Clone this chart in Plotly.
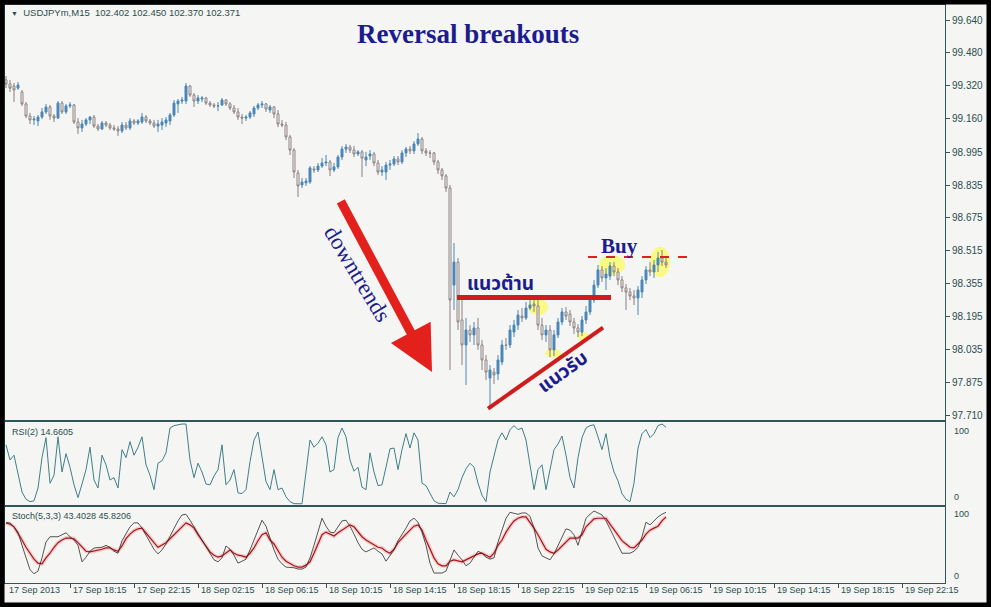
import plotly.graph_objects as go
from plotly.subplots import make_subplots

# ---------------- data ----------------
opens = [99.348, 99.328, 99.318, 99.308, 99.289, 99.231, 99.172, 99.153, 99.148, 99.167,
         99.192, 99.216, 99.172, 99.162, 99.235, 99.192, 99.221, 99.226, 99.143, 99.114,
         99.133, 99.153, 99.167, 99.123, 99.109, 99.138, 99.128, 99.114, 99.109, 99.099,
         99.128, 99.114, 99.148, 99.138, 99.143, 99.167, 99.148, 99.138, 99.123, 99.128,
         99.138, 99.148, 99.177, 99.231, 99.245, 99.245, 99.318, 99.274, 99.245, 99.255,
         99.260, 99.235, 99.226, 99.221, 99.226, 99.250, 99.231, 99.211, 99.192, 99.167,
         99.162, 99.167, 99.182, 99.211, 99.226, 99.231, 99.201, 99.216, 99.182, 99.133,
         99.128, 99.070, 99.006, 98.894, 98.836, 98.846, 98.850, 98.914, 98.909, 98.928,
         98.943, 98.948, 98.909, 98.924, 98.972, 99.011, 99.021, 99.006, 98.987, 98.997,
         98.958, 98.977, 98.987, 98.943, 98.899, 98.899, 98.933, 98.938, 98.963, 98.948,
         98.992, 99.011, 99.002, 99.036, 99.060, 99.002, 98.992, 98.992, 98.948, 98.909,
         98.880, 98.821, 98.348, 98.460, 98.178, 98.056, 98.129, 98.105, 98.139, 98.056,
         97.983, 97.895, 97.924, 97.915, 97.973, 98.056, 98.056, 98.119, 98.153, 98.197,
         98.188, 98.236, 98.256, 98.246, 98.153, 98.105, 98.129, 98.032, 98.105, 98.168,
         98.217, 98.207, 98.168, 98.139, 98.119, 98.178, 98.217, 98.275, 98.348, 98.422,
         98.383, 98.392, 98.441, 98.412, 98.373, 98.334, 98.314, 98.295, 98.285, 98.314,
         98.373, 98.422, 98.412, 98.446, 98.480, 98.460]
highs = [99.367, 99.348, 99.333, 99.338, 99.299, 99.240, 99.187, 99.172, 99.177, 99.211,
         99.231, 99.226, 99.182, 99.245, 99.245, 99.231, 99.240, 99.231, 99.162, 99.153,
         99.162, 99.172, 99.177, 99.133, 99.148, 99.148, 99.138, 99.128, 99.123, 99.143,
         99.143, 99.162, 99.157, 99.157, 99.187, 99.177, 99.157, 99.153, 99.153, 99.162,
         99.167, 99.187, 99.250, 99.255, 99.265, 99.333, 99.323, 99.284, 99.274, 99.270,
         99.265, 99.245, 99.235, 99.240, 99.260, 99.255, 99.240, 99.226, 99.211, 99.182,
         99.177, 99.196, 99.221, 99.235, 99.245, 99.235, 99.226, 99.221, 99.201, 99.153,
         99.143, 99.080, 99.016, 98.909, 98.870, 98.870, 98.928, 98.928, 98.943, 98.967,
         98.982, 98.958, 98.943, 98.982, 99.026, 99.036, 99.031, 99.026, 99.006, 99.006,
         98.997, 99.006, 98.997, 98.958, 98.928, 98.948, 98.958, 98.977, 98.977, 99.006,
         99.021, 99.026, 99.050, 99.089, 99.070, 99.016, 99.006, 98.997, 98.958, 98.919,
         98.889, 98.836, 98.553, 98.480, 98.275, 98.188, 98.153, 98.168, 98.188, 98.080,
         98.007, 97.958, 97.944, 98.007, 98.080, 98.090, 98.153, 98.178, 98.227, 98.236,
         98.266, 98.275, 98.290, 98.275, 98.188, 98.153, 98.153, 98.129, 98.188, 98.236,
         98.241, 98.227, 98.188, 98.158, 98.197, 98.246, 98.295, 98.373, 98.446, 98.441,
         98.431, 98.460, 98.460, 98.431, 98.392, 98.353, 98.334, 98.324, 98.344, 98.392,
         98.441, 98.460, 98.470, 98.509, 98.519, 98.480]
lows = [99.308, 99.289, 99.240, 99.299, 99.221, 99.162, 99.133, 99.128, 99.123, 99.157,
        99.182, 99.153, 99.143, 99.157, 99.182, 99.182, 99.211, 99.133, 99.084, 99.094,
        99.123, 99.133, 99.114, 99.099, 99.104, 99.118, 99.104, 99.099, 99.075, 99.089,
        99.104, 99.104, 99.128, 99.128, 99.133, 99.138, 99.128, 99.114, 99.094, 99.104,
        99.118, 99.128, 99.167, 99.187, 99.231, 99.231, 99.265, 99.216, 99.231, 99.240,
        99.226, 99.216, 99.211, 99.196, 99.221, 99.221, 99.201, 99.182, 99.153, 99.133,
        99.148, 99.157, 99.167, 99.201, 99.211, 99.192, 99.187, 99.162, 99.118, 99.118,
        99.055, 98.982, 98.870, 98.777, 98.821, 98.831, 98.841, 98.894, 98.899, 98.919,
        98.928, 98.880, 98.899, 98.914, 98.958, 98.992, 98.992, 98.972, 98.977, 98.875,
        98.928, 98.958, 98.928, 98.885, 98.880, 98.860, 98.909, 98.928, 98.933, 98.938,
        98.972, 98.987, 98.987, 99.026, 98.987, 98.977, 98.967, 98.933, 98.889, 98.860,
        98.802, 97.934, 98.227, 98.129, 97.958, 97.861, 98.071, 98.056, 98.032, 97.934,
        97.885, 97.754, 97.866, 97.885, 97.958, 98.032, 98.041, 98.095, 98.129, 98.168,
        98.178, 98.227, 98.217, 98.129, 98.080, 98.071, 97.997, 98.002, 98.090, 98.153,
        98.178, 98.148, 98.110, 98.095, 98.100, 98.158, 98.202, 98.261, 98.334, 98.363,
        98.324, 98.373, 98.392, 98.348, 98.314, 98.227, 98.275, 98.251, 98.202, 98.285,
        98.353, 98.392, 98.383, 98.412, 98.441, 98.431]
closes = [99.328, 99.308, 99.299, 99.323, 99.231, 99.172, 99.153, 99.157, 99.167, 99.192,
          99.216, 99.172, 99.162, 99.235, 99.192, 99.221, 99.226, 99.143, 99.114, 99.133,
          99.153, 99.167, 99.123, 99.109, 99.138, 99.128, 99.114, 99.109, 99.099, 99.128,
          99.114, 99.148, 99.138, 99.148, 99.167, 99.148, 99.138, 99.123, 99.133, 99.143,
          99.153, 99.177, 99.235, 99.245, 99.250, 99.318, 99.274, 99.245, 99.260, 99.260,
          99.235, 99.226, 99.221, 99.222, 99.250, 99.231, 99.211, 99.192, 99.167, 99.162,
          99.167, 99.187, 99.211, 99.226, 99.231, 99.206, 99.216, 99.182, 99.133, 99.128,
          99.070, 99.006, 98.899, 98.831, 98.850, 98.855, 98.919, 98.909, 98.928, 98.943,
          98.948, 98.909, 98.924, 98.972, 99.011, 99.021, 99.006, 98.987, 98.997, 98.967,
          98.972, 98.987, 98.943, 98.899, 98.909, 98.933, 98.938, 98.963, 98.948, 98.992,
          99.011, 99.002, 99.036, 99.060, 99.002, 98.992, 98.991, 98.948, 98.909, 98.880,
          98.821, 98.275, 98.460, 98.168, 98.056, 98.129, 98.105, 98.139, 98.056, 97.983,
          97.924, 97.934, 97.910, 97.983, 98.056, 98.054, 98.129, 98.153, 98.202, 98.188,
          98.236, 98.251, 98.246, 98.153, 98.105, 98.129, 98.032, 98.105, 98.168, 98.217,
          98.197, 98.168, 98.139, 98.119, 98.178, 98.217, 98.275, 98.348, 98.422, 98.383,
          98.402, 98.441, 98.412, 98.373, 98.334, 98.314, 98.295, 98.285, 98.324, 98.373,
          98.422, 98.412, 98.446, 98.480, 98.460, 98.446]

rsi = [74, 55, 61, 36, 15, 6, 3, 4, 20, 58, 83, 26, 36, 84, 40, 63, 46, 24, 8, 25,
       43, 71, 30, 20, 61, 49, 30, 33, 20, 68, 58, 78, 61, 71, 84, 49, 36, 18, 51, 54,
       64, 95, 98, 99, 100, 100, 55, 33, 51, 40, 25, 24, 35, 43, 74, 24, 30, 43, 14, 13,
       18, 53, 80, 90, 61, 28, 18, 43, 18, 20, 9, 3, 0.5, 0.3, 0.3, 40, 80, 71, 76, 84,
       74, 40, 43, 83, 95, 84, 55, 41, 46, 21, 18, 64, 40, 23, 24, 46, 69, 70, 43, 68,
       88, 70, 89, 80, 26, 23, 14, 4, 1, 0.3, 0.5, 15, 9, 18, 33, 44, 51, 46, 26, 11,
       3, 40, 61, 80, 89, 80, 93, 98, 93, 95, 80, 49, 18, 43, 49, 18, 43, 68, 75, 85,
       61, 33, 20, 58, 83, 95, 98, 99, 84, 68, 88, 58, 40, 29, 13, 6, 3, 26, 70, 88,
       93, 83, 88, 98, 100, 96]

stoch_k = [82, 82, 76, 68, 48, 29, 11, 5, 9, 29, 53, 61, 61, 61, 64, 67, 61, 56, 48, 23,
           30, 39, 44, 44, 45, 48, 45, 39, 36, 55, 65, 76, 82, 82, 74, 64, 52, 42, 35, 41,
           50, 62, 74, 85, 94, 95, 86, 76, 65, 56, 47, 35, 26, 23, 29, 47, 42, 33, 21, 24,
           27, 41, 56, 71, 86, 77, 59, 41, 27, 20, 15, 15, 14, 12, 12, 15, 29, 48, 70, 89,
           77, 68, 67, 77, 85, 86, 77, 65, 52, 42, 38, 41, 44, 39, 35, 24, 32, 41, 55, 64,
           74, 85, 89, 83, 68, 48, 21, 6, 6, 6, 9, 26, 41, 33, 26, 17, 21, 30, 39, 36,
           30, 27, 29, 53, 71, 89, 98, 97, 95, 97, 97, 92, 74, 44, 32, 29, 26, 35, 48, 62,
           73, 71, 64, 48, 68, 89, 95, 100, 97, 94, 85, 73, 61, 47, 36, 36, 36, 39, 45, 61,
           83, 79, 85, 91, 95, 98]
stoch_d = [82, 80, 76, 67, 56, 45, 36, 27, 21, 20, 29, 36, 45, 52, 56, 59, 59, 58, 52, 45,
           39, 38, 39, 41, 42, 44, 44, 41, 39, 47, 58, 65, 70, 73, 74, 67, 59, 52, 45, 48,
           52, 58, 64, 71, 77, 82, 79, 74, 64, 55, 45, 38, 33, 30, 32, 36, 41, 36, 33, 32,
           30, 36, 44, 55, 64, 67, 56, 50, 39, 30, 24, 20, 17, 15, 15, 18, 23, 36, 50, 64,
           68, 65, 62, 67, 71, 76, 79, 76, 68, 61, 56, 52, 48, 45, 44, 39, 36, 42, 52, 59,
           65, 71, 77, 79, 71, 56, 41, 29, 20, 17, 17, 24, 26, 24, 23, 26, 29, 32, 35, 36,
           33, 30, 36, 48, 56, 68, 77, 85, 89, 91, 91, 83, 74, 64, 53, 42, 38, 36, 41, 47,
           53, 59, 59, 59, 64, 76, 82, 88, 89, 89, 89, 80, 71, 62, 55, 50, 45, 44, 50, 56,
           65, 71, 74, 77, 85, 91]

price_ticks = [97.710, 97.875, 98.035, 98.195, 98.355, 98.515, 98.675,
               98.835, 98.995, 99.160, 99.320, 99.480, 99.640]
time_label_pos = [0, 16, 32, 48, 64, 80, 96, 112, 128, 144, 160, 176, 192, 208, 224]
time_labels = ["17 Sep 2013", "17 Sep 18:15", "17 Sep 22:15", "18 Sep 02:15", "18 Sep 06:15",
               "18 Sep 10:15", "18 Sep 14:15", "18 Sep 18:15", "18 Sep 22:15", "19 Sep 02:15",
               "19 Sep 06:15", "19 Sep 10:15", "19 Sep 14:15", "19 Sep 18:15", "19 Sep 22:15"]

resistance_level = 98.288
buy_level = 98.485
support_from = (120.5, 97.746)
support_to = (149.25, 98.141)

# ---------------- figure ----------------
BG = "#f5f5f3"
FRAME = "#2c5858"
TXT = "#2a4e4e"
NAVY = "#1c1c8e"

fig = make_subplots(rows=3, cols=1, shared_xaxes=True, vertical_spacing=0)

fig.add_trace(go.Candlestick(
    x=list(range(len(closes))), open=opens, high=highs, low=lows, close=closes,
    increasing=dict(line=dict(color="#4a86b8", width=1), fillcolor="#4a86b8"),
    decreasing=dict(line=dict(color="#8a8080", width=1), fillcolor="#ffffff"),
    whiskerwidth=0, showlegend=False, hoverinfo="skip"), row=1, col=1)

fig.add_trace(go.Scatter(x=list(range(len(rsi))), y=rsi, mode="lines",
                         line=dict(color="#3f7f88", width=1), showlegend=False,
                         hoverinfo="skip"), row=2, col=1)

fig.add_trace(go.Scatter(x=list(range(len(stoch_d))), y=stoch_d, mode="lines",
                         line=dict(color="rgba(235,120,120,0.30)", width=4),
                         showlegend=False, hoverinfo="skip"), row=3, col=1)
fig.add_trace(go.Scatter(x=list(range(len(stoch_d))), y=stoch_d, mode="lines",
                         line=dict(color="#a8141a", width=1.2), showlegend=False,
                         hoverinfo="skip"), row=3, col=1)
fig.add_trace(go.Scatter(x=list(range(len(stoch_k))), y=stoch_k, mode="lines",
                         line=dict(color="#2b2b2b", width=0.8), showlegend=False,
                         hoverinfo="skip"), row=3, col=1)

axis_common = dict(showgrid=False, zeroline=False, showline=True, mirror=True,
                   linecolor=FRAME, linewidth=1)
for ax in ["xaxis", "xaxis2", "xaxis3"]:
    fig.layout[ax].update(range=[-0.25, 234.75], rangeslider=dict(visible=False),
                          showticklabels=False, ticks="", **axis_common)
fig.layout.xaxis3.update(ticks="outside", ticklen=4, tickcolor=FRAME,
                         tickvals=time_label_pos[1:])

fig.layout.yaxis.update(domain=[0.2820, 1.0], range=[97.6904, 99.7131], side="right",
                        tickvals=price_ticks, ticktext=["%.3f" % v for v in price_ticks],
                        ticks="outside", ticklen=4, tickcolor=FRAME,
                        tickfont=dict(family="Liberation Sans", size=10, color=TXT),
                        **axis_common)
fig.layout.yaxis2.update(domain=[0.1349, 0.2785], range=[-1.25, 102.5],
                         showticklabels=False, ticks="", **axis_common)
fig.layout.yaxis3.update(domain=[0.0, 0.1315], range=[-9.09, 106.06],
                         showticklabels=False, ticks="", **axis_common)

ann = []
small = dict(family="Liberation Sans", size=9, color=TXT)
ann.append(dict(xref="paper", yref="paper", x=0.0043, y=0.9862, xanchor="left",
                yanchor="middle", showarrow=False, font=dict(family="Liberation Sans", size=9.5, color=TXT),
                text="<span style='font-size:7px'>▼</span>\u00a0\u00a0USDJPYm,M15\u00a0\u00a0102.402 102.450 102.370 102.371"))
ann.append(dict(xref="paper", yref="paper", x=0.0053, y=0.2612, xanchor="left",
                yanchor="middle", showarrow=False, font=small, text="RSI(2) 14.6605"))
ann.append(dict(xref="paper", yref="paper", x=0.0053, y=0.1159, xanchor="left",
                yanchor="middle", showarrow=False, font=small,
                text="Stoch(5,3,3) 43.4028 45.8206"))
# indicator scale labels
ann.append(dict(xref="paper", yref="y2", x=1.007, y=100, xanchor="left", yanchor="top",
                showarrow=False, font=small, text="100"))
ann.append(dict(xref="paper", yref="y2", x=1.007, y=0, xanchor="left", yanchor="bottom",
                showarrow=False, font=small, text="0"))
ann.append(dict(xref="paper", yref="y3", x=1.007, y=100, yshift=-3, xanchor="left",
                yanchor="middle", showarrow=False, font=small, text="100"))
ann.append(dict(xref="paper", yref="y3", x=1.007, y=0, yshift=1, xanchor="left",
                yanchor="middle", showarrow=False, font=small, text="0"))
# time labels
for pos, lab in zip(time_label_pos, time_labels):
    ann.append(dict(xref="x3", yref="paper", x=pos + 0.25, y=-0.0121, xanchor="left",
                    yanchor="middle", showarrow=False, font=small, text=lab))
# title
ann.append(dict(xref="paper", yref="paper", x=0.4926, y=0.9498, xanchor="center",
                yanchor="middle", showarrow=False,
                font=dict(family="Liberation Serif", size=27, color=NAVY),
                text="<b>Reversal breakouts</b>"))
# down arrow
ann.append(dict(xref="x", yref="y", axref="x", ayref="y", x=106.5, y=97.924,
                ax=83.5, ay=98.763, showarrow=True, arrowhead=2, arrowsize=1.0,
                arrowwidth=9, arrowcolor="#e3211c", standoff=0, text=""))
ann.append(dict(xref="x", yref="y", x=87.8, y=98.405, showarrow=False, textangle=59,
                font=dict(family="Liberation Serif", size=23, color=NAVY),
                text="downtrends"))
thai_font = "Noto Sans Thai, Noto Sans Thai UI, Loma, Garuda, Tahoma, sans-serif"
ann.append(dict(xref="x", yref="y", x=123.5, y=98.353, showarrow=False,
                font=dict(family=thai_font, size=19, color=NAVY), text="<b>แนวต้าน</b>"))
ann.append(dict(xref="x", yref="y", x=139.3, y=97.924, showarrow=False, textangle=-36,
                font=dict(family=thai_font, size=19, color=NAVY), text="<b>แนวรับ</b>"))
ann.append(dict(xref="x", yref="y", x=153.3, y=98.539, showarrow=False,
                font=dict(family="Liberation Serif", size=21, color=NAVY), text="<b>Buy</b>"))

shapes = []
# outer black frame
shapes.append(dict(type="rect", xref="paper", yref="paper", x0=-0.00532, x1=1.04894,
                   y0=-0.04152, y1=1.00865, line=dict(color="#000000", width=9),
                   fillcolor="rgba(0,0,0,0)", layer="above"))
# yellow highlights
yellow = "rgba(255,250,40,0.55)"
for (x0, x1, y0, y1) in [(130.5, 135.5, 98.202, 98.280), (148.25, 154.75, 98.397, 98.495),
                         (161.0, 166.0, 98.387, 98.534), (134.75, 138.75, 97.995, 98.039),
                         (142.75, 145.75, 98.080, 98.119)]:
    shapes.append(dict(type="circle", xref="x", yref="y", x0=x0, x1=x1, y0=y0, y1=y1,
                       fillcolor=yellow, line=dict(width=0), layer="below"))
shapes.append(dict(type="line", xref="x", yref="y", x0=112.75, x1=151.25,
                   y0=resistance_level, y1=resistance_level,
                   line=dict(color="#cf1c1c", width=5)))
shapes.append(dict(type="line", xref="x", yref="y", x0=support_from[0], x1=support_to[0],
                   y0=support_from[1], y1=support_to[1],
                   line=dict(color="#cf1c1c", width=4)))
shapes.append(dict(type="line", xref="x", yref="y", x0=145.5, x1=171.0,
                   y0=buy_level, y1=buy_level,
                   line=dict(color="#e02020", width=2, dash="dash")))

fig.update_layout(width=991, height=607, margin=dict(l=5, r=46, t=5, b=24),
                  paper_bgcolor=BG, plot_bgcolor=BG, showlegend=False,
                  annotations=ann, shapes=shapes, hovermode=False)

fig.write_html("out.html", config={"displayModeBar": False},
               post_script="document.body.style.margin='0';document.body.style.overflow='hidden';")
